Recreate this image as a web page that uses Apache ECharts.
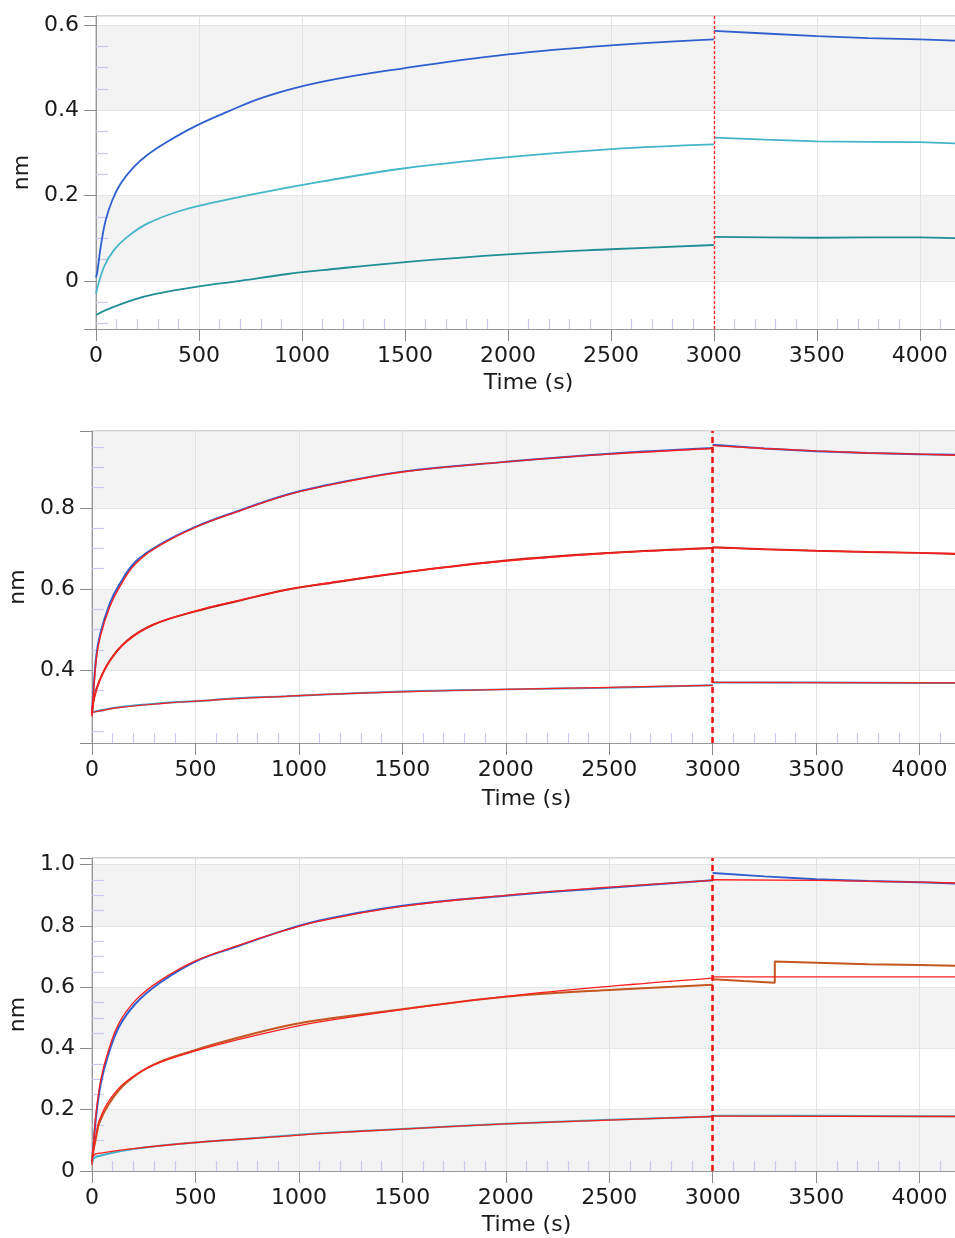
<!DOCTYPE html>
<html>
<head>
<meta charset="utf-8">
<script src="https://cdn.jsdelivr.net/npm/echarts@6/dist/echarts.min.js"></script>
<style>
  html, body { margin: 0; padding: 0; background: #fff; }
  #main { width: 955px; height: 1238px; }
</style>
</head>
<body>
<div id="main"></div>
<script>
// switch from association to dissociation (s)
const stepTime = 3000;
const xTicks = [0, 500, 1000, 1500, 2000, 2500, 3000, 3500, 4000];

// ---- top panel ----
const topHiAssoc = [[0,0.008],[6,0.020],[23,0.080],[47,0.142],[79,0.189],[120,0.228],[184,0.267],[249,0.295],[346,0.326],[476,0.361],[637,0.396],[816,0.431],[1100,0.467],[1500,0.499],[2000,0.531],[2500,0.552],[3000,0.566]];
const topHiDiss = [[3000,0.586],[3250,0.580],[3500,0.574],[3750,0.569],[4000,0.566],[4200,0.563]];
const topMidAssoc = [[0,-0.030],[39,0.033],[87,0.072],[152,0.103],[249,0.134],[395,0.162],[557,0.182],[816,0.208],[1100,0.233],[1500,0.264],[2000,0.290],[2500,0.309],[3000,0.320]];
const topMidDiss = [[3000,0.336],[3250,0.331],[3500,0.327],[3750,0.326],[4000,0.325],[4200,0.322]];
const topLoAssoc = [[0,-0.080],[50,-0.068],[184,-0.044],[285,-0.031],[500,-0.013],[700,0.000],[930,0.016],[1100,0.025],[1500,0.044],[2000,0.062],[2500,0.074],[3000,0.084]];
const topLoDiss = [[3000,0.103],[3250,0.102],[3500,0.101],[3750,0.102],[4000,0.102],[4200,0.100]];

// ---- middle panel ----
const midHiAssoc = [[0,0.290],[20,0.432],[40,0.490],[85,0.563],[130,0.609],[210,0.667],[330,0.710],[500,0.753],[700,0.791],[940,0.832],[1100,0.852],[1500,0.889],[2000,0.913],[2500,0.933],[3000,0.947]];
const midHiDiss = [[3000,0.955],[3250,0.946],[3500,0.939],[3750,0.935],[4000,0.932],[4200,0.930]];
const midHiFitAssoc = [[0,0.286],[20,0.425],[40,0.483],[85,0.555],[130,0.602],[210,0.662],[330,0.708],[500,0.752],[700,0.790],[940,0.831],[1100,0.851],[1500,0.888],[2000,0.913],[2500,0.932],[3000,0.946]];
const midHiFitDiss = [[3000,0.953],[3250,0.946],[3500,0.940],[3750,0.935],[4000,0.932],[4200,0.929]];
const midMidAssoc = [[0,0.295],[10,0.332],[35,0.373],[85,0.423],[165,0.471],[295,0.512],[500,0.545],[700,0.570],[940,0.598],[1100,0.611],[1500,0.640],[2000,0.670],[2500,0.689],[3000,0.701]];
const midMidDiss = [[3000,0.703],[3250,0.698],[3500,0.694],[3750,0.691],[4000,0.689],[4200,0.686]];
const midMidFitAssoc = [[0,0.290],[10,0.330],[35,0.372],[85,0.422],[165,0.470],[295,0.512],[500,0.546],[700,0.571],[940,0.598],[1100,0.612],[1500,0.641],[2000,0.669],[2500,0.688],[3000,0.700]];
const midMidFitDiss = [[3000,0.702],[3500,0.694],[4000,0.689],[4200,0.687]];
const midLoAssoc = [[0,0.297],[130,0.309],[360,0.320],[500,0.324],[700,0.331],[940,0.336],[1100,0.340],[1500,0.348],[2000,0.353],[2500,0.357],[3000,0.363]];
const midLoDiss = [[3000,0.370],[3500,0.370],[4000,0.369],[4200,0.369]];
const midLoFitAssoc = [[0,0.296],[130,0.308],[360,0.319],[500,0.324],[700,0.330],[940,0.336],[1100,0.340],[1500,0.347],[2000,0.353],[2500,0.358],[3000,0.363]];
const midLoFitDiss = [[3000,0.370],[4200,0.369]];

// ---- bottom panel ----
const botHiAssoc = [[0,0.025],[6,0.070],[20,0.180],[43,0.287],[76,0.374],[130,0.470],[210,0.546],[325,0.613],[500,0.684],[700,0.733],[940,0.788],[1100,0.818],[1500,0.866],[2000,0.899],[2500,0.925],[3000,0.949]];
const botHiDiss = [[3000,0.973],[3250,0.962],[3500,0.953],[3750,0.947],[4000,0.943],[4200,0.938]];
const botHiFitAssoc = [[0,0.020],[6,0.080],[20,0.192],[43,0.300],[76,0.386],[130,0.482],[210,0.557],[325,0.620],[500,0.686],[700,0.735],[940,0.787],[1100,0.816],[1500,0.864],[2000,0.900],[2500,0.927],[3000,0.949]];
const botHiFitDiss = [[3000,0.951],[3500,0.949],[4000,0.943],[4200,0.940]];
const botMidAssoc = [[0,0.045],[20,0.110],[35,0.156],[84,0.221],[164,0.287],[293,0.346],[500,0.395],[700,0.434],[940,0.474],[1100,0.493],[1500,0.528],[2000,0.569],[2500,0.591],[3000,0.608]];
const botMidDiss = [[3000,0.626],[3150,0.620],[3300,0.615],[3300,0.684],[3500,0.680],[3750,0.675],[4000,0.673],[4200,0.670]];
const botMidFitAssoc = [[0,0.030],[20,0.120],[35,0.165],[85,0.232],[165,0.292],[295,0.345],[500,0.392],[700,0.428],[940,0.466],[1100,0.487],[1500,0.527],[2000,0.570],[2500,0.603],[3000,0.630]];
const botMidFitDiss = [[3000,0.634],[4200,0.634]];
const botLoAssoc = [[0,0.025],[10,0.042],[40,0.050],[200,0.072],[500,0.093],[940,0.115],[1100,0.123],[1500,0.137],[2000,0.154],[2500,0.167],[3000,0.178]];
const botLoDiss = [[3000,0.180],[3500,0.180],[4000,0.179],[4200,0.179]];
const botLoFitAssoc = [[0,0.030],[10,0.053],[40,0.058],[200,0.073],[500,0.093],[940,0.114],[1100,0.122],[1500,0.137],[2000,0.154],[2500,0.166],[3000,0.178]];
const botLoFitDiss = [[3000,0.179],[4200,0.178]];

// axis ranges per panel
const yMin = [-0.113, 0.221, 0];
const yMax = [0.621, 0.989, 1.022];
const ySplit = [4, 4, 5];
const xMax = 4200;

const FONT = 'DejaVu Sans';
const BLUE = '#2f5fcf', CYAN = '#45b5c8', TEAL = '#1f8e95', RED = '#ff1f1f',
      DARKRED = '#b82318', LBLUE = '#3f9cc4', BROWN = '#c4561f', LTEAL = '#3db3c6';

// plot areas run a little past the right edge of the page, as in the original
const grids = [
  { left: 96, top: 16, width: 865, bottom: 909 },
  { left: 92, top: 431, width: 869, bottom: 495 },
  { left: 92, top: 858, width: 869, bottom: 67 }
].map(g => Object.assign(g, {
  show: true, borderColor: '#a8a8a8', borderWidth: 1, backgroundColor: '#fff',
  containLabel: false, outerBoundsMode: 'none'
}));

const bands = [['#ffffff', '#f3f3f3'], ['#ffffff', '#f3f3f3'], ['#f3f3f3', '#ffffff']];

function yLabel(v) {
  const r = Math.round(v * 5) / 5;
  if (Math.abs(v - r) > 1e-6) return '';
  return r === 0 ? '0' : r.toFixed(1);
}
function xLabel(v) {
  return xTicks.indexOf(v) >= 0 ? String(v) : '';
}

const xAxes = [], yAxes = [];
grids.forEach((g, i) => {
  xAxes.push({
    gridIndex: i, type: 'value', position: 'bottom', min: 0, max: xMax, interval: 500,
    axisLine: { show: true, onZero: false, lineStyle: { color: '#999' } },
    axisTick: { show: true, length: 12, lineStyle: { color: '#8c8c8c' } },
    axisLabel: { formatter: xLabel, color: '#1a1a1a', fontFamily: FONT, fontSize: 22, margin: 16 },
    splitLine: { show: true, lineStyle: { color: '#e2e2e2' } },
    name: 'Time (s)', nameLocation: 'middle', nameGap: i === 1 ? 45 : 43,
    nameTextStyle: { color: '#1a1a1a', fontFamily: FONT, fontSize: 22 }
  });
  // inner minor ticks every 100 s
  xAxes.push({
    gridIndex: i, type: 'value', position: 'bottom', min: 0, max: xMax, interval: 500,
    axisLine: { show: false, onZero: false },
    axisTick: { show: false, inside: true },
    minorTick: { show: true, splitNumber: 5, length: 10, lineStyle: { color: '#c9c9ee', width: 1.2 } },
    axisLabel: { show: false }, splitLine: { show: false }
  });
  yAxes.push({
    gridIndex: i, type: 'value', position: 'left', min: yMin[i], max: yMax[i], splitNumber: ySplit[i],
    axisLine: { show: true, onZero: false, lineStyle: { color: '#999' } },
    axisTick: { show: true, length: 12, lineStyle: { color: '#8c8c8c' } },
    axisLabel: { formatter: yLabel, color: '#1a1a1a', fontFamily: FONT, fontSize: 22, margin: 17 },
    splitLine: { show: true, lineStyle: { color: '#e6e6e6' } },
    splitArea: { show: true, areaStyle: { color: bands[i] } },
    name: 'nm', nameLocation: 'middle', nameGap: 60,
    nameTextStyle: { color: '#1a1a1a', fontFamily: FONT, fontSize: 22 }
  });
  // inner minor ticks every 0.05 nm
  yAxes.push({
    gridIndex: i, type: 'value', position: 'left', min: yMin[i], max: yMax[i], splitNumber: ySplit[i],
    axisLine: { show: false, onZero: false },
    axisTick: { show: false, inside: true },
    minorTick: { show: true, splitNumber: 4, length: 12, lineStyle: { color: '#c9c9ee', width: 1.2 } },
    axisLabel: { show: false }, splitLine: { show: false }, splitArea: { show: false }
  });
});

function trace(panel, data, color, width, smooth) {
  return {
    type: 'line', xAxisIndex: panel * 2, yAxisIndex: panel * 2, data: data,
    showSymbol: false, symbol: 'none', silent: true, smooth: smooth ? 0.4 : false,
    lineStyle: { color: color, width: width }
  };
}
function stepLine(s, width, dash, color) {
  s.markLine = {
    silent: true, symbol: ['none', 'none'], label: { show: false },
    lineStyle: { color: color, width: width, type: dash, opacity: 1 },
    data: [{ xAxis: stepTime }]
  };
  return s;
}

const series = [
  stepLine(trace(0, topHiAssoc, BLUE, 1.8, true), 1.4, [3, 2], '#ff2a2a'),
  trace(0, topHiDiss, BLUE, 1.8),
  trace(0, topMidAssoc, CYAN, 1.8, true),
  trace(0, topMidDiss, CYAN, 1.8),
  trace(0, topLoAssoc, TEAL, 1.8, true),
  trace(0, topLoDiss, TEAL, 1.8),

  trace(1, midHiAssoc, BLUE, 2, true),
  trace(1, midHiDiss, BLUE, 2),
  trace(1, midMidAssoc, DARKRED, 2, true),
  trace(1, midMidDiss, DARKRED, 2),
  trace(1, midLoAssoc, LBLUE, 2, true),
  trace(1, midLoDiss, LBLUE, 2),
  stepLine(trace(1, midHiFitAssoc, RED, 1.4, true), 2.5, [6, 4], '#ee1111'),
  trace(1, midHiFitDiss, RED, 1.4),
  trace(1, midMidFitAssoc, RED, 1.4, true),
  trace(1, midMidFitDiss, RED, 1.4),
  trace(1, midLoFitAssoc, RED, 1.2, true),
  trace(1, midLoFitDiss, RED, 1.2),

  trace(2, botHiAssoc, BLUE, 2, true),
  trace(2, botHiDiss, BLUE, 2),
  trace(2, botMidAssoc, BROWN, 2, true),
  trace(2, botMidDiss, BROWN, 2),
  trace(2, botLoAssoc, LTEAL, 2, true),
  trace(2, botLoDiss, LTEAL, 2),
  stepLine(trace(2, botHiFitAssoc, RED, 1.3, true), 2.5, [6, 4], '#ee1111'),
  trace(2, botHiFitDiss, RED, 1.3),
  trace(2, botMidFitAssoc, RED, 1.3, true),
  trace(2, botMidFitDiss, RED, 1.3),
  trace(2, botLoFitAssoc, RED, 1.3, true),
  trace(2, botLoFitDiss, RED, 1.3)
];

var myChart = echarts.init(document.getElementById('main'), null, { renderer: 'canvas' });
myChart.setOption({
  animation: false,
  backgroundColor: '#fff',
  grid: grids,
  xAxis: xAxes,
  yAxis: yAxes,
  series: series
});
</script>
</body>
</html>
